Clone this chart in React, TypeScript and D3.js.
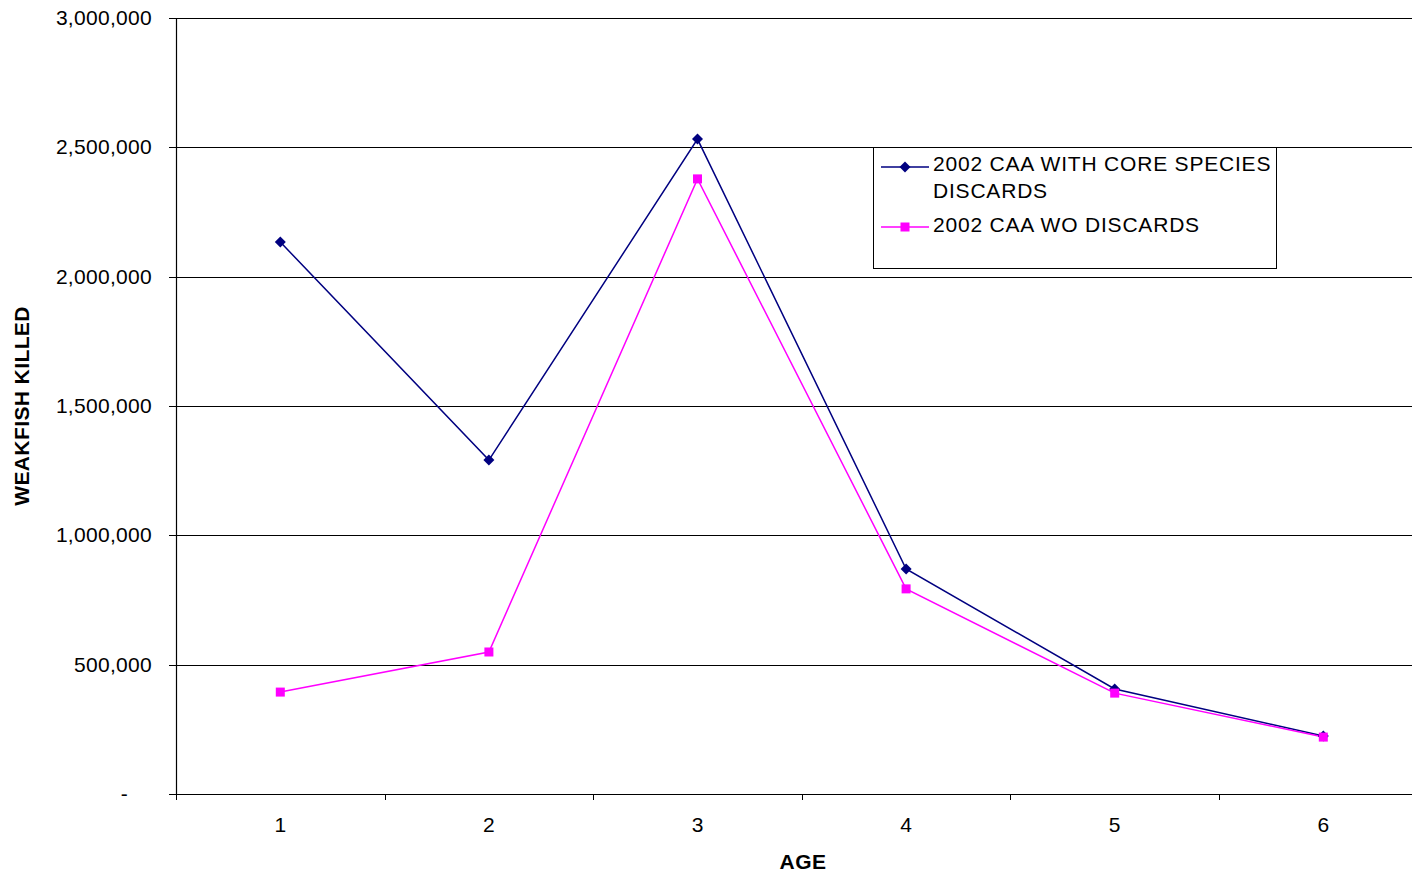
import React from "react";
import * as d3 from "d3";

const ages = ["1", "2", "3", "4", "5", "6"];
const withDiscards = [2134000, 1291000, 2532000, 870000, 406000, 224000];
const withoutDiscards = [394000, 549000, 2378000, 793000, 390000, 220000];
const yTicks = [0, 500000, 1000000, 1500000, 2000000, 2500000, 3000000];
const seriesNames = ["2002 CAA WITH CORE SPECIES", "DISCARDS", "2002 CAA WO DISCARDS"];

export default function App() {
  const W = 1412, H = 878;
  const left = 176, right = 1427.6, top = 18, bottom = 794;
  const x = d3.scaleBand<string>().domain(ages).range([left, right]);
  const y = d3.scaleLinear().domain([0, 3000000]).range([bottom, top]);
  const cx = (a: string) => (x(a) as number) + x.bandwidth() / 2;
  const line = d3.line<number>().x((_, i) => cx(ages[i])).y((v) => y(v));
  const fmt = d3.format(",");
  const font = "Liberation Sans, Arial, sans-serif";
  const blue = "#000080";
  const pink = "#FF00FF";
  const diamond = (px: number, py: number, k: number) => (
    <path key={k} d={`M${px},${py - 5.5}L${px + 5.5},${py}L${px},${py + 5.5}L${px - 5.5},${py}Z`} fill={blue} />
  );
  const square = (px: number, py: number, k: number) => (
    <rect key={k} x={px - 4.5} y={py - 4.5} width={9} height={9} fill={pink} />
  );
  const xTickPos = ages.map((a) => x(a) as number).concat([right]);
  return (
    <svg width={W} height={H} style={{ position: "absolute", left: 0, top: 0 }} fontFamily={font}>
      <rect width={W} height={H} fill="#fff" />
      {yTicks.slice(1).map((t) => (
        <line key={t} x1={left} x2={right} y1={Math.round(y(t)) + 0.5} y2={Math.round(y(t)) + 0.5} stroke="#000" strokeWidth={1} />
      ))}
      {yTicks.map((t) => (
        <g key={"yt" + t}>
          <line x1={169} x2={left} y1={Math.round(y(t)) + 0.5} y2={Math.round(y(t)) + 0.5} stroke="#000" />
          <text x={t === 0 ? 128 : 152} y={y(t) + 7} textAnchor="end" fontSize={21} letterSpacing={0.3} fill="#000">
            {t === 0 ? "-" : fmt(t)}
          </text>
        </g>
      ))}
      <line x1={left + 0.5} x2={left + 0.5} y1={top} y2={bottom} stroke="#000" strokeWidth={1.2} />
      <line x1={left} x2={right} y1={bottom + 0.5} y2={bottom + 0.5} stroke="#000" strokeWidth={1.2} />
      {xTickPos.map((p, i) => (
        <line key={"xt" + i} x1={Math.round(p) + 0.5} x2={Math.round(p) + 0.5} y1={bottom} y2={bottom + 6} stroke="#000" />
      ))}
      {ages.map((a) => (
        <text key={"xl" + a} x={cx(a)} y={832} textAnchor="middle" fontSize={21} fill="#000">
          {a}
        </text>
      ))}
      <text x={803} y={869} textAnchor="middle" fontSize={21} letterSpacing={0.5} fontWeight="bold">AGE</text>
      <text transform="translate(29,406) rotate(-90)" textAnchor="middle" fontSize={21} letterSpacing={0.4} fontWeight="bold">WEAKFISH KILLED</text>
      <path d={line(withDiscards) || ""} fill="none" stroke={blue} strokeWidth={1.5} />
      <path d={line(withoutDiscards) || ""} fill="none" stroke={pink} strokeWidth={1.5} />
      {withDiscards.map((v, i) => diamond(cx(ages[i]), y(v), i))}
      {withoutDiscards.map((v, i) => square(cx(ages[i]), y(v), i))}
      <rect x={873.5} y={147.5} width={403} height={121} fill="#fff" stroke="#000" strokeWidth={1} />
      <line x1={881} x2={929} y1={167} y2={167} stroke={blue} strokeWidth={1.5} />
      {diamond(905, 167, 100)}
      <line x1={881} x2={929} y1={227} y2={227} stroke={pink} strokeWidth={1.5} />
      {square(905, 227, 101)}
      <text x={933} y={171} fontSize={21} letterSpacing={0.8} fill="#000">{seriesNames[0]}</text>
      <text x={933} y={198} fontSize={21} letterSpacing={0.8} fill="#000">{seriesNames[1]}</text>
      <text x={933} y={232} fontSize={21} letterSpacing={0.8} fill="#000">{seriesNames[2]}</text>
    </svg>
  );
}
